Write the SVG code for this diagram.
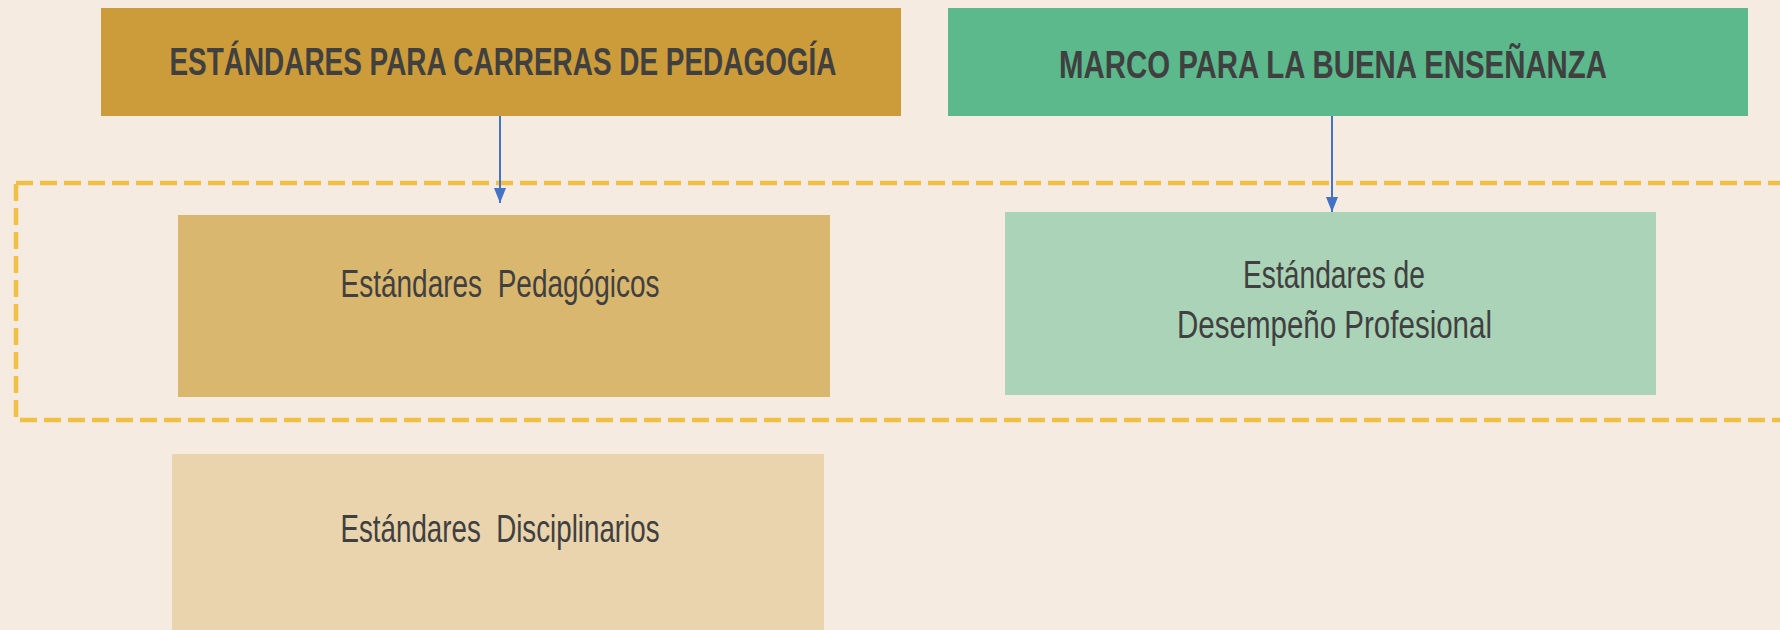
<svg xmlns="http://www.w3.org/2000/svg" width="1780" height="630" viewBox="0 0 1780 630">
<style>
.title{font-family:"Liberation Sans",Arial,sans-serif;font-weight:bold;font-size:38px;fill:#404040;text-anchor:middle}
.body{font-family:"Liberation Sans",Arial,sans-serif;font-size:39px;fill:#404040;text-anchor:middle;white-space:pre}
.conn{stroke:#4472C4;stroke-width:2;fill:none}
</style>
<defs>
<marker id="arr" viewBox="0 0 15 12" refX="15" refY="6" markerWidth="15" markerHeight="12" markerUnits="userSpaceOnUse" orient="auto">
<path d="M0,0 L15,6 L0,12 z" fill="#4472C4"/>
</marker>
</defs>
<rect x="0" y="0" width="1780" height="630" fill="#F5EBE0"/>
<rect id="group-frame" x="16" y="183" width="1800" height="237" fill="none" stroke="#F0BF45" stroke-width="4.5" stroke-dasharray="17 7"/>
<g id="estandares-carreras">
<rect x="101" y="8" width="800" height="108" fill="#CC9B3A"/>
<text class="title" x="503" y="75" textLength="667" lengthAdjust="spacingAndGlyphs">ESTÁNDARES PARA CARRERAS DE PEDAGOGÍA</text>
</g>
<g id="marco-buena-ensenanza">
<rect x="948" y="8" width="800" height="108" fill="#5BB98C"/>
<text class="title" x="1333" y="78" textLength="548" lengthAdjust="spacingAndGlyphs">MARCO PARA LA BUENA ENSEÑANZA</text>
</g>
<g id="estandares-pedagogicos">
<rect x="178" y="215" width="652" height="182" fill="#D9B76E"/>
<text class="body" x="500" y="297" textLength="319" lengthAdjust="spacingAndGlyphs" xml:space="preserve">Estándares  Pedagógicos</text>
</g>
<g id="estandares-desempeno">
<rect x="1005" y="212" width="651" height="183" fill="#ABD3B7"/>
<text class="body" x="1334" y="288" textLength="182" lengthAdjust="spacingAndGlyphs">Estándares de</text>
<text class="body" x="1334.5" y="338" textLength="315" lengthAdjust="spacingAndGlyphs">Desempeño Profesional</text>
</g>
<g id="estandares-disciplinarios">
<rect x="172" y="454" width="652" height="190" fill="#E9D4AD"/>
<text class="body" x="500" y="542" textLength="319" lengthAdjust="spacingAndGlyphs" xml:space="preserve">Estándares  Disciplinarios</text>
</g>
<g id="connectors">
<line class="conn" x1="500" y1="116" x2="500" y2="203" marker-end="url(#arr)"/>
<line class="conn" x1="1332" y1="116" x2="1332" y2="212" marker-end="url(#arr)"/>
</g>
</svg>
